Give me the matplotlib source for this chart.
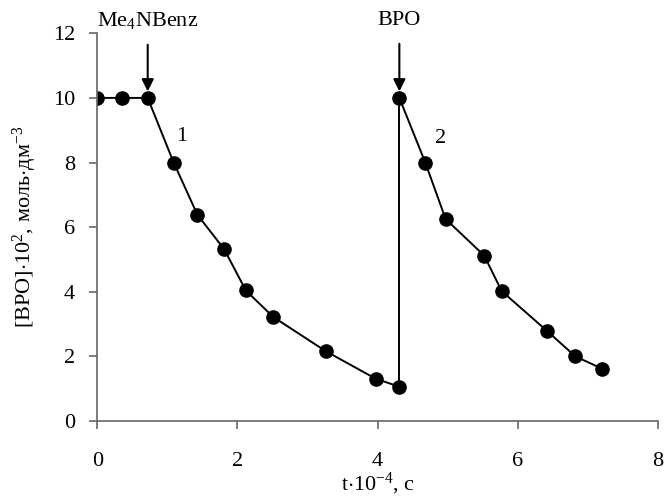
import matplotlib
matplotlib.use('Agg')
import matplotlib.pyplot as plt

plt.rcParams['font.family'] = ['Liberation Serif', 'DejaVu Serif']
plt.rcParams['mathtext.fontset'] = 'custom'
plt.rcParams['mathtext.rm'] = 'Liberation Serif'
plt.rcParams['mathtext.it'] = 'Liberation Serif:italic'

# curve 1 (Me4NBenz added at t = 0.72)
t1 = [0, 0.36, 0.72, 1.09, 1.43, 1.81, 2.12, 2.51, 3.26, 3.97, 4.31]
c1 = [10, 10, 10, 8.0, 6.38, 5.32, 4.04, 3.22, 2.16, 1.31, 1.06]
# curve 2 (BPO added at t = 4.31)
t2 = [4.31, 4.68, 4.97, 5.52, 5.77, 6.42, 6.82, 7.20]
c2 = [10, 8.0, 6.25, 5.12, 4.02, 2.78, 2.0, 1.62]

fig, ax = plt.subplots(figsize=(6.66, 4.97), dpi=100)
fig.subplots_adjust(left=0.146, right=0.988, bottom=0.153, top=0.933)

ax.plot(t1, c1, color='black', lw=1.4, marker='o', ms=9.5)
ax.plot([t1[-1], t2[0]], [c1[-1], c2[0]], color='black', lw=1.4)
ax.plot(t2, c2, color='black', lw=1.4, marker='o', ms=9.5)

fs = 16
ax.annotate('Me$_4$NBenz', xy=(t1[2], c1[2] + 0.2), xytext=(t1[2], 12.4),
            ha='center', va='center', fontsize=fs,
            arrowprops=dict(arrowstyle='-|>', color='black', lw=1.5,
                            mutation_scale=18, shrinkA=8, shrinkB=0))
ax.annotate('BPO', xy=(t2[0], c2[0] + 0.2), xytext=(t2[0], 12.4),
            ha='center', va='center', fontsize=fs,
            arrowprops=dict(arrowstyle='-|>', color='black', lw=1.5,
                            mutation_scale=18, shrinkA=8, shrinkB=0))
ax.text(1.2, 8.8, '1', fontsize=fs, ha='center', va='center')
ax.text(4.9, 8.75, '2', fontsize=fs, ha='center', va='center')

ax.set_xlim(0, 8)
ax.set_ylim(0, 12)
ax.set_xticks([0, 2, 4, 6, 8])
ax.set_yticks([0, 2, 4, 6, 8, 10, 12])
ax.spines['top'].set_visible(False)
ax.spines['right'].set_visible(False)
for s in ['left', 'bottom']:
    ax.spines[s].set_color('#666666')
    ax.spines[s].set_linewidth(1.2)
ax.tick_params(labelsize=fs, length=6, width=1.2, color='#666666')
ax.tick_params(axis='x', pad=16)
ax.tick_params(axis='y', pad=10)
ax.set_xlabel('t$\\cdot$10$^{-4}$, с', fontsize=fs, labelpad=0)
ax.set_ylabel('[BPO]$\\cdot$10$^{2}$, моль$\\cdot$дм$^{-3}$', fontsize=fs, labelpad=10)

fig.savefig('out.png', dpi=100)
